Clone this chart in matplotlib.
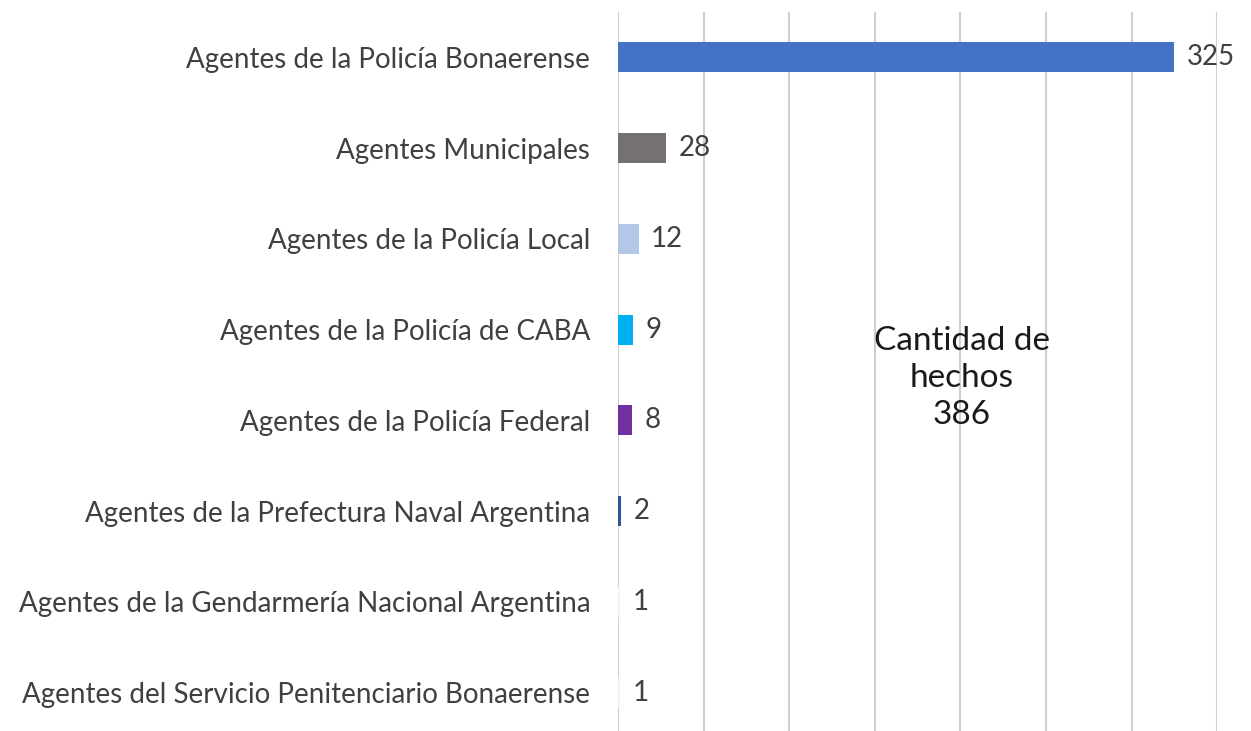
import matplotlib.pyplot as plt
import numpy as np

plt.rcParams['font.family'] = ['Lato', 'DejaVu Sans']

categories = ["Agentes de la Policía Bonaerense",
              "Agentes Municipales",
              "Agentes de la Policía Local",
              "Agentes de la Policía de CABA",
              "Agentes de la Policía Federal",
              "Agentes de la Prefectura Naval Argentina",
              "Agentes de la Gendarmería Nacional Argentina",
              "Agentes del Servicio Penitenciario Bonaerense"]
values = [325, 28, 12, 9, 8, 2, 1, 1]
colors = ["#4472C4", "#767171", "#B4C7E7", "#00B0F0", "#7030A0", "#2F5597", "#F2F2F2", "#F2F2F2"]
total_label = "Cantidad de\nhechos\n386"

fig = plt.figure(figsize=(12.51, 7.31), dpi=100)
ax = fig.add_axes([0.494, -0.0096, 0.479, 0.9932])

y = np.arange(len(categories))
ax.barh(y, values, height=0.33, color=colors, zorder=3)
ax.set_ylim(len(categories) - 0.5, -0.5)
ax.set_xlim(0, 350)
ax.set_xticks(np.arange(0, 351, 50))
ax.xaxis.grid(True, color="#D0D0D0", linewidth=1.5, zorder=0)
ax.set_xticklabels([])
ax.tick_params(axis="x", length=0)
ax.set_yticks(y)
ax.set_yticklabels(categories, fontsize=20, color="#404040")
ax.tick_params(axis="y", length=0, pad=20)
for s in ax.spines.values():
    s.set_visible(False)

for yi, v in zip(y, values):
    ax.annotate(str(v), (v, yi), xytext=(9, 0), textcoords="offset points",
                va="center", ha="left", fontsize=20, color="#404040")

ax.text(0.574, 0.496, total_label, transform=ax.transAxes, ha="center", va="center",
        fontsize=24, color="#1a1a1a", linespacing=1.3)

fig.savefig("out.png", dpi=100)
